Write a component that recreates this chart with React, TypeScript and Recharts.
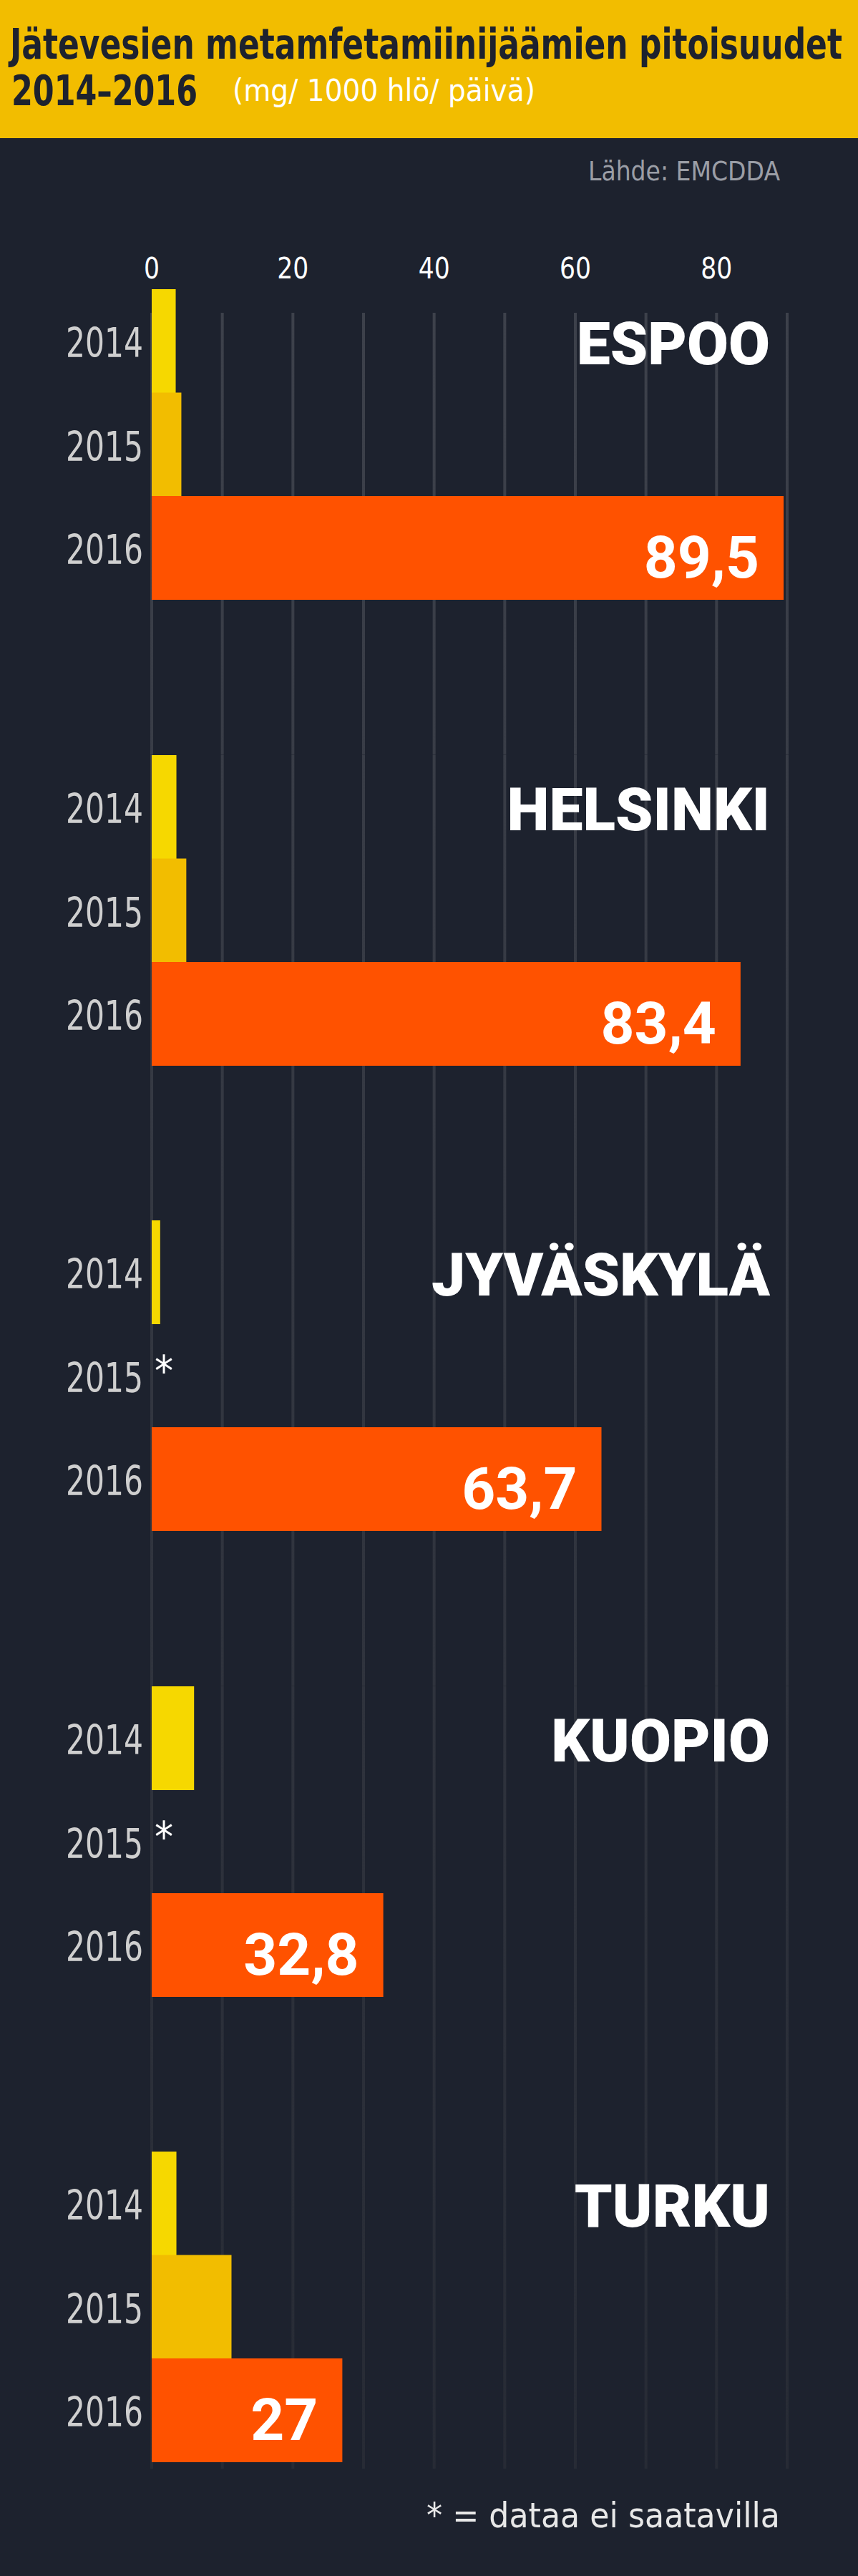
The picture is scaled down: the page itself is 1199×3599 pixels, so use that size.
import React from 'react';
import { BarChart, Bar, XAxis, YAxis, CartesianGrid, Cell, LabelList } from 'recharts';

const cities = ['ESPOO', 'HELSINKI', 'JYVÄSKYLÄ', 'KUOPIO', 'TURKU'];
const years = ['2014', '2015', '2016'];
const values2014 = [3.4, 3.5, 1.2, 6.0, 3.5];
const values2015: (number | null)[] = [4.2, 4.9, null, null, 11.3];
const values2016 = [89.5, 83.4, 63.7, 32.8, 27];
const gridTicks = [0, 10, 20, 30, 40, 50, 60, 70, 80, 90];
const labelledTicks = [0, 20, 40, 60, 80];

const yearColors: Record<string, string> = { '2014': '#f6d800', '2015': '#f2bd00', '2016': '#ff5200' };

const BG = '#1d222e';
const W = 1199;
const H = 3599;
const ROW = 144.5;
const GAP = 217;
const BLOCK = ROW * 3 + GAP;
const FIRST_TOP = 404;
const AXIS_H = 74;
const GRID_TOP = 437;
const GRID_BOTTOM = 3449;
const NARROW = "'Liberation Sans Narrow', 'DejaVu Sans Condensed', Roboto, sans-serif";
const BOLD = "Roboto, 'Liberation Sans', sans-serif";
const TITLE_STRETCH = 1.18;

if (typeof document !== 'undefined') {
  document.body.style.margin = '0';
  document.body.style.background = BG;
}

const fmt = (v: number) => String(v).replace('.', ',');

function YearTick(props: any) {
  const { x, y, payload, rows } = props;
  const row = rows.find((r: any) => r.year === payload.value);
  return (
    <g>
      <text
        x={x}
        y={y + 23}
        textAnchor="end"
        fill="#cfcfcf"
        fontSize={57}
        fontFamily={NARROW}
        textLength={108}
        lengthAdjust="spacingAndGlyphs"
      >
        {payload.value}
      </text>
      {row && row.value == null && (
        <text x={x + 16} y={y + 14} fill="#ffffff" fontSize={58} fontFamily={NARROW}>
          *
        </text>
      )}
    </g>
  );
}

function ValueTick(props: any) {
  const { x, y, payload } = props;
  if (!labelledTicks.includes(payload.value)) return null;
  const label = String(payload.value);
  return (
    <text
      x={x}
      y={y}
      textAnchor="middle"
      fill="#ffffff"
      fontSize={41}
      fontFamily={NARROW}
      textLength={22 * label.length}
      lengthAdjust="spacingAndGlyphs"
    >
      {label}
    </text>
  );
}

const renderValue = (props: any) => {
  const { x, y, width, height, value } = props;
  if (value == null) return null;
  return (
    <text
      x={Number(x) + Number(width) - 34}
      y={Number(y) + Number(height) / 2 + 41}
      textAnchor="end"
      fill="#ffffff"
      fontSize={82}
      fontWeight={700}
      fontFamily={BOLD}
    >
      {value}
    </text>
  );
};

function CityChart({ index }: { index: number }) {
  const first = index === 0;
  const last = index === cities.length - 1;
  const rows = years.map((year, i) => {
    const value = [values2014, values2015, values2016][i][index];
    return { year, value, label: year === '2016' && value != null ? fmt(value) : undefined };
  });
  const plotTop = FIRST_TOP + index * BLOCK;
  const top = first ? plotTop - AXIS_H : plotTop;
  const bottomPad = last ? GRID_BOTTOM - (plotTop + ROW * 3) : GAP;
  const height = (first ? AXIS_H : 0) + ROW * 3 + bottomPad;
  const gradId = `grid-${index}`;
  const gridY = first ? GRID_TOP - top : undefined;

  return (
    <div style={{ position: 'absolute', left: 0, top, width: W, height }}>
      <BarChart
        width={W}
        height={height}
        data={rows}
        layout="vertical"
        margin={{ top: 0, right: 99, bottom: 0, left: 0 }}
        barCategoryGap={0}
      >
        <defs>
          <linearGradient id={gradId} gradientUnits="userSpaceOnUse" x1="0" y1={GRID_TOP - top} x2="0" y2={GRID_BOTTOM - top}>
            <stop offset="0%" stopColor="#3d414b" />
            <stop offset="100%" stopColor="#272b35" />
          </linearGradient>
        </defs>
        <CartesianGrid
          horizontal={false}
          stroke={`url(#${gradId})`}
          strokeWidth={4}
          {...(gridY != null ? { y: gridY, height: height - gridY } : {})}
        />
        <XAxis
          type="number"
          domain={[0, 90]}
          ticks={gridTicks}
          orientation="top"
          hide={!first}
          height={AXIS_H}
          axisLine={false}
          tickLine={false}
          tickSize={6}
          tickMargin={9}
          interval={0}
          tick={<ValueTick />}
        />
        <YAxis
          type="category"
          dataKey="year"
          width={212}
          axisLine={false}
          tickLine={false}
          tickMargin={6}
          padding={{ top: 0, bottom: bottomPad }}
          tick={<YearTick rows={rows} />}
        />
        <Bar dataKey="value" isAnimationActive={false}>
          {rows.map((r) => (
            <Cell key={r.year} fill={yearColors[r.year]} />
          ))}
          <LabelList dataKey="label" content={renderValue} />
        </Bar>
      </BarChart>
    </div>
  );
}

export default function App() {
  return (
    <div style={{ position: 'relative', width: W, height: H, background: BG, overflow: 'hidden' }}>
      {cities.map((c, i) => (
        <CityChart key={c} index={i} />
      ))}
      <svg width={W} height={H} style={{ position: 'absolute', left: 0, top: 0, pointerEvents: 'none' }}>
        <rect x={0} y={0} width={W} height={193} fill="#f2bd00" />
        <g transform={`scale(1, ${TITLE_STRETCH})`}>
          <text
            x={14}
            y={82 / TITLE_STRETCH}
            fontSize={49}
            fontWeight={700}
            fill="#1d222e"
            fontFamily={NARROW}
            textLength={1163}
            lengthAdjust="spacingAndGlyphs"
          >
            Jätevesien metamfetamiinijäämien pitoisuudet
          </text>
          <text
            x={16}
            y={147 / TITLE_STRETCH}
            fontSize={49}
            fontWeight={700}
            fill="#1d222e"
            fontFamily={NARROW}
            textLength={260}
            lengthAdjust="spacingAndGlyphs"
          >
            2014–2016
          </text>
        </g>
        <text x={325} y={141} fontSize={42} fill="#ffffff" fontFamily={NARROW} textLength={423} lengthAdjust="spacingAndGlyphs">
          (mg/ 1000 hlö/ päivä)
        </text>
        <text x={1090} y={252} fontSize={37} fill="#9b9ea6" fontFamily={NARROW} textAnchor="end" textLength={268} lengthAdjust="spacingAndGlyphs">
          Lähde: EMCDDA
        </text>
        {cities.map((c, i) => (
          <text
            key={c}
            x={1076}
            y={FIRST_TOP + i * BLOCK + 105}
            textAnchor="end"
            fontSize={84}
            fontWeight={900}
            fill="#ffffff"
            fontFamily={BOLD}
          >
            {c}
          </text>
        ))}
        <text x={1090} y={3531} fontSize={48} fill="#e8e8e8" fontFamily={NARROW} textAnchor="end" textLength={494} lengthAdjust="spacingAndGlyphs">
          * = dataa ei saatavilla
        </text>
      </svg>
    </div>
  );
}
